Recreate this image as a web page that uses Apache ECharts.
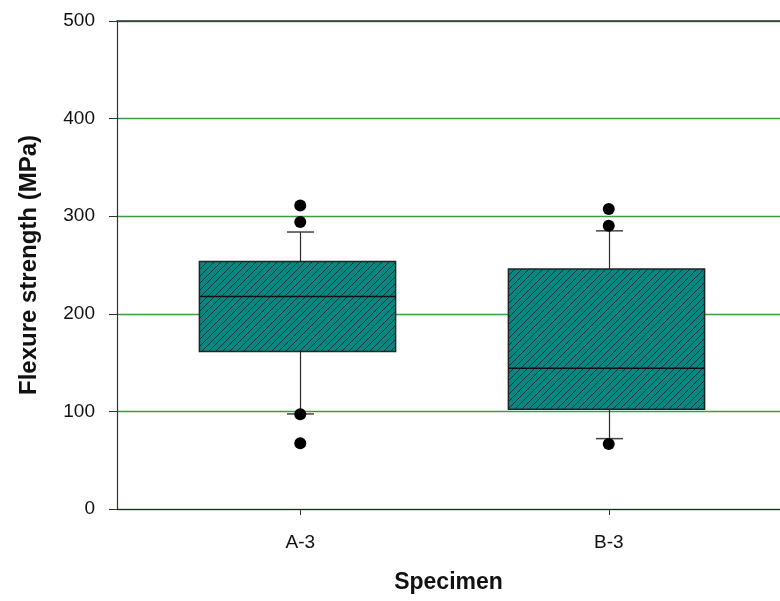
<!DOCTYPE html>
<html>
<head>
<meta charset="utf-8">
<script src="https://cdn.jsdelivr.net/npm/echarts@6/dist/echarts.min.js"></script>
<style>
  html, body { margin: 0; padding: 0; background: #ffffff; }
  #chart { width: 780px; height: 601px; }
</style>
</head>
<body>
<div id="chart"></div>
<script>
// Specimen groups
const categories = ['A-3', 'B-3'];
// Box statistics per specimen: [lower whisker, Q1, median, Q3, upper whisker]
const lowerWhisker = [97.4, 72.1];
const quartile1 = [161.3, 102.2];
const medians = [217.7, 144.3];
const quartile3 = [253.6, 245.8];
const upperWhisker = [283.8, 285.0];
// Points beyond the whiskers, per specimen
const outliersA = [311.0, 294.0, 97.0, 67.4];
const outliersB = [307.4, 290.3, 66.7];
// Value axis ticks
const yTicks = [0, 100, 200, 300, 400, 500];

const FONT = 'Liberation Sans, Arial, Helvetica, sans-serif';

// Diagonal hatch pattern for the box fill
function makeHatch() {
  const s = 7;
  const c = document.createElement('canvas');
  c.width = s; c.height = s;
  const ctx = c.getContext('2d');
  ctx.fillStyle = '#088782';
  ctx.fillRect(0, 0, s, s);
  ctx.strokeStyle = '#0f2e2d';
  ctx.lineWidth = 0.9;
  ctx.beginPath();
  ctx.moveTo(-1, s + 1); ctx.lineTo(s + 1, -1);
  ctx.moveTo(-1, 1); ctx.lineTo(1, -1);
  ctx.moveTo(s - 1, s + 1); ctx.lineTo(s + 1, s - 1);
  ctx.stroke();
  return c;
}
const hatch = makeHatch();

const boxData = categories.map((c, i) => [i, lowerWhisker[i], quartile1[i], medians[i], quartile3[i], upperWhisker[i]]);
const outlierData = outliersA.map(v => [0, v]).concat(outliersB.map(v => [1, v]));

function renderBox(params, api) {
  const x = api.value(0);
  const band = api.size([1, 0])[0];
  const halfBox = band * 0.318;
  const halfCap = 13.5;
  const pLow = api.coord([x, api.value(1)]);
  const pQ1 = api.coord([x, api.value(2)]);
  const pMed = api.coord([x, api.value(3)]);
  const pQ3 = api.coord([x, api.value(4)]);
  const pHigh = api.coord([x, api.value(5)]);
  const cx = Math.round(pMed[0]) + 0.5;
  const lineStyle = { stroke: '#2a2a2a', lineWidth: 1.2 };
  return {
    type: 'group',
    children: [
      { type: 'line', shape: { x1: cx, y1: pQ3[1], x2: cx, y2: pHigh[1] }, style: lineStyle },
      { type: 'line', shape: { x1: cx, y1: pQ1[1], x2: cx, y2: pLow[1] }, style: lineStyle },
      { type: 'line', shape: { x1: cx - halfCap, y1: pHigh[1], x2: cx + halfCap, y2: pHigh[1] }, style: { stroke: '#444', lineWidth: 1.5 } },
      { type: 'line', shape: { x1: cx - halfCap, y1: pLow[1], x2: cx + halfCap, y2: pLow[1] }, style: { stroke: '#444', lineWidth: 1.5 } },
      {
        type: 'rect',
        shape: { x: cx - halfBox - 3, y: pQ3[1], width: halfBox * 2, height: pQ1[1] - pQ3[1] },
        style: { fill: { image: hatch, repeat: 'repeat' }, stroke: '#222', lineWidth: 1.5 }
      },
      { type: 'line', shape: { x1: cx - halfBox - 3, y1: pMed[1], x2: cx + halfBox - 3, y2: pMed[1] }, style: { stroke: '#111', lineWidth: 1.5 } }
    ]
  };
}

const chart = echarts.init(document.getElementById('chart'), null, { renderer: 'canvas' });
chart.setOption({
  backgroundColor: '#ffffff',
  animation: false,
  grid: [
    { left: 117, right: 0, top: 21, bottom: 92 },
    { left: 146, right: 17, top: 21, bottom: 92 }
  ],
  xAxis: [
    {
      gridIndex: 0, type: 'value', min: 0, max: 1, position: 'bottom',
      axisLine: { show: true, lineStyle: { color: '#222', width: 1.2 } },
      axisTick: { show: false }, axisLabel: { show: false }, splitLine: { show: false },
      name: 'Specimen', nameLocation: 'middle', nameGap: 62,
      nameTextStyle: { fontFamily: FONT, fontSize: 23, fontWeight: 'bold', color: '#111' }
    },
    {
      gridIndex: 0, type: 'value', min: 0, max: 1, position: 'top',
      axisLine: { show: true, lineStyle: { color: '#333', width: 1.5 } },
      axisTick: { show: false }, axisLabel: { show: false }, splitLine: { show: false }
    },
    {
      gridIndex: 1, type: 'category', data: categories, position: 'bottom',
      axisLine: { show: false },
      axisTick: { show: true, alignWithLabel: true, length: 6, lineStyle: { color: '#333' } },
      axisLabel: { fontFamily: FONT, fontSize: 19, color: '#111', margin: 24 },
      splitLine: { show: false }
    }
  ],
  yAxis: [
    {
      gridIndex: 0, type: 'value', min: yTicks[0], max: yTicks[yTicks.length - 1], interval: 100,
      axisLine: { show: true, lineStyle: { color: '#333', width: 1.2 } },
      axisTick: { show: true, length: 8, lineStyle: { color: '#333' } },
      axisLabel: { fontFamily: FONT, fontSize: 19, color: '#111', margin: 22 },
      splitLine: { show: true, lineStyle: { color: '#3c9c3c', width: 1.3 } },
      name: 'Flexure strength (MPa)', nameLocation: 'middle', nameRotate: 90, nameGap: 76,
      nameTextStyle: { fontFamily: FONT, fontSize: 24, fontWeight: 'bold', color: '#111' }
    },
    {
      gridIndex: 1, type: 'value', min: yTicks[0], max: yTicks[yTicks.length - 1], interval: 100,
      show: false, splitLine: { show: false }
    }
  ],
  series: [
    {
      type: 'custom',
      xAxisIndex: 2, yAxisIndex: 1,
      renderItem: renderBox,
      encode: { x: 0, y: [1, 2, 3, 4, 5] },
      data: boxData,
      z: 3
    },
    {
      type: 'scatter',
      xAxisIndex: 2, yAxisIndex: 1,
      symbol: 'circle', symbolSize: 12,
      itemStyle: { color: '#000', opacity: 1 },
      emphasis: { disabled: true },
      data: outlierData,
      z: 5
    }
  ]
});
</script>
</body>
</html>
